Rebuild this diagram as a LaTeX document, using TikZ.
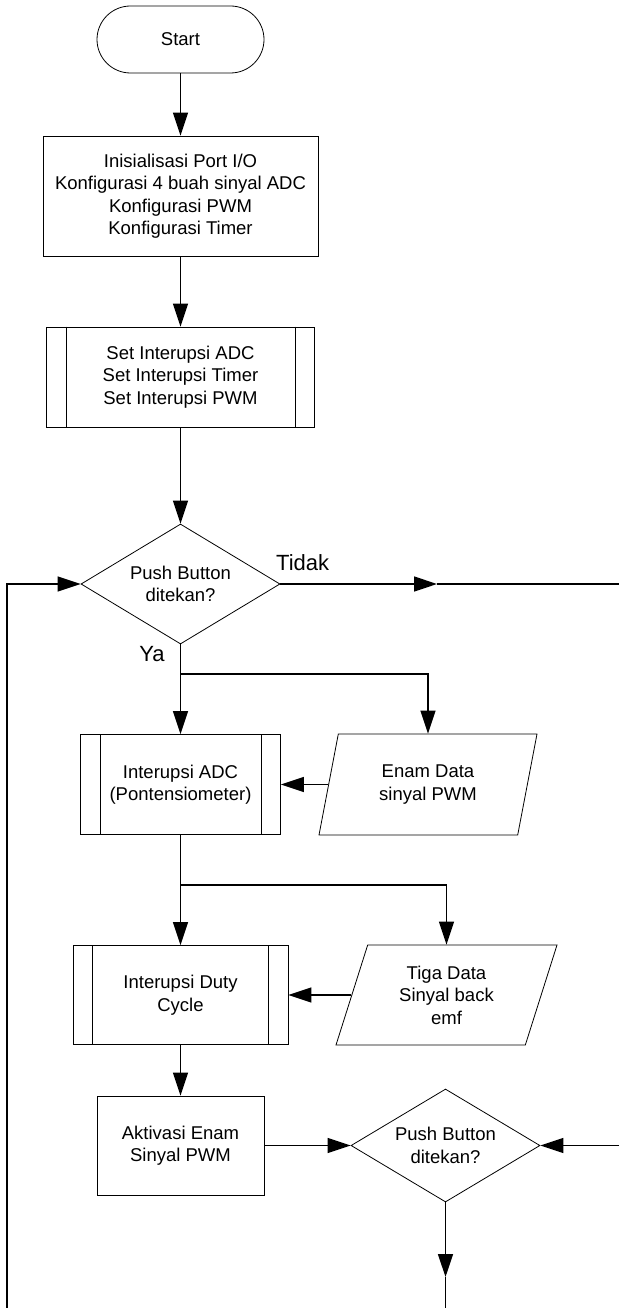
\documentclass[tikz,border=0pt]{standalone}
\usepackage{fontspec}
\setmainfont{Liberation Sans}
\usetikzlibrary{shapes.geometric,arrows.meta}
\begin{document}
\begin{tikzpicture}[x=1pt,y=-1pt,
  shp/.style={draw,line width=0.8pt,inner sep=0pt,align=center,font=\fontsize{18.5}{22.5}\selectfont},
  box/.style={shp,rectangle},
  term/.style={shp,rectangle,rounded corners=33.5pt},
  dec/.style={shp,diamond,aspect=1.66},
  io/.style={shp,trapezium,trapezium stretches body},
  inner/.style={line width=0.8pt},
  conn/.style={line width=1.4pt},
  arr/.style={conn,-{Triangle[length=23pt,width=15pt]}},
  lbl/.style={inner sep=0pt,font=\fontsize{22}{26}\selectfont}
]
\useasboundingbox (0,0) rectangle (619,1308);

\node[term, minimum width=167pt, minimum height=67pt] (start) at (180.5,39.5) {Start};
\node[box, minimum width=275pt, minimum height=120pt] (b1) at (180.5,196)
  {Inisialisasi Port I/O\\Konfigurasi 4 buah sinyal ADC\\Konfigurasi PWM\\Konfigurasi Timer};
\node[box, minimum width=268pt, minimum height=100pt] (b2) at (180.5,377)
  {Set Interupsi ADC\\Set Interupsi Timer\\Set Interupsi PWM};
\draw[inner] ([xshift=20pt]b2.north west) -- ([xshift=20pt]b2.south west);
\draw[inner] ([xshift=-20pt]b2.north east) -- ([xshift=-20pt]b2.south east);

\node[dec, minimum width=199pt, minimum height=120pt] (d1) at (180.5,584) {Push Button\\ditekan?};
\node[lbl, anchor=west] (tidak) at (276,563) {Tidak};
\node[lbl] (ya) at (152,654) {Ya};

\node[box, minimum width=200pt, minimum height=100pt] (b3) at (180.5,784.5)
  {Interupsi ADC\\(Pontensiometer)};
\draw[inner] ([xshift=20pt]b3.north west) -- ([xshift=20pt]b3.south west);
\draw[inner] ([xshift=-20pt]b3.north east) -- ([xshift=-20pt]b3.south east);

\node[io, minimum width=218pt, minimum height=101pt,
  trapezium left angle=63.7, trapezium right angle=116.3] (p1) at (428,784.5)
  {Enam Data\\sinyal PWM};

\node[box, minimum width=215pt, minimum height=99pt] (b4) at (180.5,995)
  {Interupsi Duty\\Cycle};
\draw[inner] ([xshift=20pt]b4.north west) -- ([xshift=20pt]b4.south west);
\draw[inner] ([xshift=-20pt]b4.north east) -- ([xshift=-20pt]b4.south east);

\node[io, minimum width=221pt, minimum height=100pt,
  trapezium left angle=61.6, trapezium right angle=118.4] (p2) at (446.5,995)
  {Tiga Data\\Sinyal back\\emf};

\node[box, minimum width=167pt, minimum height=99pt] (b5) at (180.5,1145.5)
  {Aktivasi Enam\\Sinyal PWM};
\node[dec, minimum width=189pt, minimum height=113pt] (d2) at (445.5,1145.5) {Push Button\\ditekan?};

\coordinate (j1) at (180.5,674);
\coordinate (j2) at (180.5,885);
\coordinate (tmid) at (437,584);
\coordinate (tend) at (619,584);
\coordinate (rin) at (619,1145.5);
\coordinate (lbot) at (7,1308);
\coordinate (dmid) at (445.5,1277);
\coordinate (dend) at (445.5,1308);

\draw[arr] (start.south) -- (b1.north);
\draw[arr] (b1.south) -- (b2.north);
\draw[arr] (b2.south) -- (d1.north);
\draw[arr] (d1.east) -- (tmid);
\draw[conn] (tmid) -- (tend);
\draw[arr] (lbot) |- (d1.west);
\draw[arr] (d1.south) -- (b3.north);
\draw[arr] (j1) -| (p1.center |- p1.top side);
\draw[arr] (p1.left side) -- (b3.east);
\draw[arr] (b3.south) -- (b4.north);
\draw[arr] (j2) -| (p2.center |- p2.top side);
\draw[arr] (p2.left side) -- (b4.east);
\draw[arr] (b4.south) -- (b5.north);
\draw[arr] (b5.east) -- (d2.west);
\draw[arr] (rin) -- (d2.east);
\draw[arr] (d2.south) -- (dmid);
\draw[conn] (dmid) -- (dend);
\end{tikzpicture}
\end{document}
